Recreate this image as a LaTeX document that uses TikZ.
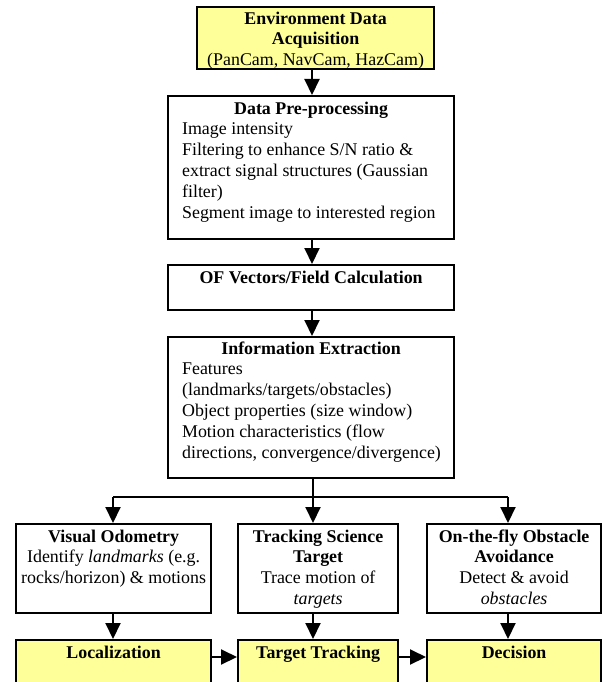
\documentclass[tikz,border=0pt]{standalone}
\usepackage{fontspec}
\setmainfont{Liberation Serif}
\usetikzlibrary{arrows.meta}
\definecolor{boxyellow}{HTML}{FFFF99}
\newcommand\bx[3]{\parbox[c][#2][t]{#1}{\fontsize{17.9}{20.8}\selectfont #3}}
\newcommand\ttl[2][18pt]{\centering\rule{0pt}{#1}\textbf{#2}}
\tikzset{
  box/.style={draw, line width=2.2pt, inner sep=0pt, anchor=north west, fill=white},
  ybox/.style={box, fill=boxyellow},
  conn/.style={line width=2pt},
  arr/.style={line width=2pt, -{Triangle[width=15pt,length=16pt]}}
}
\begin{document}
\begin{tikzpicture}[x=1pt,y=-1pt]
\useasboundingbox (0,0) rectangle (603,682);
\clip (0,0) rectangle (603,682);
\fill[white] (0,0) rectangle (603,682);

\node[ybox] (env) at (196,6) {\bx{237pt}{62pt}{\ttl[17pt]{Environment Data}\\\textbf{Acquisition}\\(PanCam, NavCam, HazCam)}};

\node[box] (pre) at (167,95) {\bx{286pt}{143pt}{\ttl{Data Pre-processing}\par
 {\raggedright\leftskip=14pt Image intensity\\Filtering to enhance S/N ratio \&\\extract signal structures (Gaussian\\filter)\\Segment image to interested region\par}}};

\node[box] (of) at (167,264) {\bx{286pt}{45pt}{\ttl{OF Vectors/Field Calculation}}};

\node[box] (info) at (167,336) {\bx{286pt}{141pt}{\ttl[17pt]{Information Extraction}\par
 {\raggedright\leftskip=14pt Features\\(landmarks/targets/obstacles)\\Object properties (size window)\\Motion characteristics (flow\\directions, convergence/divergence)\par}}};

\node[box] (vo) at (15,523) {\bx{195pt}{89pt}{\ttl{Visual Odometry}\\Identify \textit{landmarks} (e.g.\\rocks/horizon) \& motions}};
\node[box] (tr) at (237,523) {\bx{160pt}{89pt}{\ttl{Tracking Science}\\\textbf{Target}\\Trace motion of\\\textit{targets}}};
\node[box] (ob) at (426,523) {\bx{174pt}{89pt}{\ttl{On-the-fly Obstacle}\\\textbf{Avoidance}\\Detect \& avoid\\\textit{obstacles}}};

\node[ybox] (loc) at (15,639) {\bx{195pt}{60pt}{\ttl{Localization}}};
\node[ybox] (tt) at (237,639) {\bx{160pt}{60pt}{\ttl{Target Tracking}}};
\node[ybox] (dec) at (426,639) {\bx{174pt}{60pt}{\ttl{Decision}}};

\coordinate (j) at (313,497);
\coordinate (jl) at (113,497);
\coordinate (jr) at (508,497);

\draw[arr] (env.south -| 312,0) -- (pre.north -| 312,0);
\draw[arr] (pre.south -| 312,0) -- (of.north -| 312,0);
\draw[arr] (of.south -| 312,0) -- (info.north -| 312,0);
\draw[conn] (info.south -| j) -- (j);
\draw[conn] (jl) -- (jr);
\draw[arr] (j) -- (j |- tr.north);
\draw[arr] (jl) -- (jl |- vo.north);
\draw[arr] (jr) -- (jr |- ob.north);
\draw[arr] (jl |- vo.south) -- (jl |- loc.north);
\draw[arr] (j |- tr.south) -- (j |- tt.north);
\draw[arr] (jr |- ob.south) -- (jr |- dec.north);
\draw[arr] ([yshift=-18pt]loc.north east) -- ([yshift=-18pt]tt.north west);
\draw[arr] ([yshift=-18pt]tt.north east) -- ([yshift=-18pt]dec.north west);
\end{tikzpicture}
\end{document}
